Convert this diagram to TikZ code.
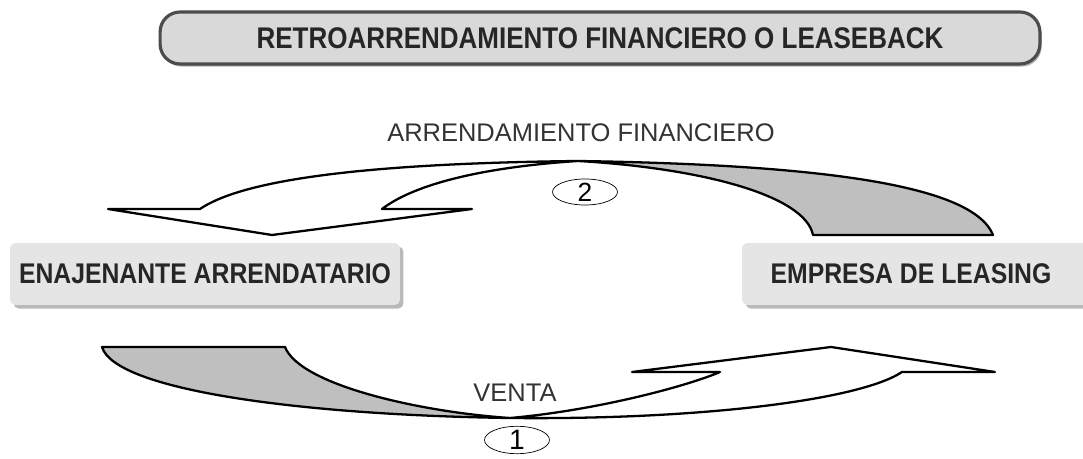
\documentclass[tikz,border=0pt]{standalone}
\usepackage{fontspec}
\setmainfont{Liberation Sans}
\newfontfamily\condfont[FakeStretch=0.87]{Liberation Sans}
\usetikzlibrary{shapes.geometric, shadows}

\tikzstyle{titlebox} = [rectangle, rounded corners=0.4cm, minimum width=17.6cm, minimum height=1.04cm, text centered, draw=black!70, line width=1.8pt, fill=gray!30, drop shadow={shadow xshift=1pt, shadow yshift=-1.5pt, fill=black!60}, font=\condfont\bfseries\fontsize{17}{20}\selectfont, text=black!85]
\tikzstyle{party} = [rectangle, rounded corners=3pt, minimum height=1.24cm, text centered, fill=gray!20, drop shadow={shadow xshift=2pt, shadow yshift=-2pt, fill=black!55}, font=\condfont\bfseries\fontsize{16.2}{19}\selectfont, text=black!85]
\tikzstyle{band} = [draw=black, line width=1.3pt, line join=round]
\tikzstyle{flowlabel} = [font=\fontsize{14.5}{17}\selectfont, text=black!80]
\tikzstyle{num} = [ellipse, draw=black, thin, fill=white, minimum width=1.3cm, minimum height=0.52cm, inner sep=0pt]

\begin{document}
\begin{tikzpicture}[x=0.02cm, y=-0.02cm]
\useasboundingbox (0,0) rectangle (1083,459);

% Nodes
\node (title) at (600,38) [titlebox] {RETROARRENDAMIENTO FINANCIERO O LEASEBACK};
\node (seller) at (205,274) [party, minimum width=7.8cm] {ENAJENANTE ARRENDATARIO};
\node (lessor) at (916,274) [party, minimum width=6.96cm] {\hspace*{-0.2cm}EMPRESA DE LEASING};

% Arrendamiento financiero (top ribbon)
\coordinate (twistA) at (578,161);
\draw [band, fill=gray!50] (813,235) -- (993,235) .. controls (975,190) and (850,165) .. (twistA) .. controls (700,168) and (805,195) .. (813,235) -- cycle;
\draw [band, fill=white] (twistA) .. controls (400,163) and (250,175) .. (200,209) -- (108,209) -- (272,235) -- (472,209) -- (382,209) .. controls (420,180) and (500,166) .. (twistA) -- cycle;

% Venta (bottom ribbon)
\coordinate (twistB) at (510,418);
\draw [band, fill=gray!50] (102,347) -- (285,347) .. controls (300,385) and (420,412) .. (twistB) .. controls (300,415) and (115,390) .. (102,347) -- cycle;
\draw [band, fill=white] (twistB) .. controls (700,420) and (860,400) .. (902,372) -- (995,372) -- (831,347) -- (632,372) -- (720,372) .. controls (690,385) and (600,410) .. (twistB) -- cycle;

% Labels
\node (lblArr) at (581,133) [flowlabel] {ARRENDAMIENTO FINANCIERO};
\node (num2) at (585,192) [num, font=\fontsize{15}{17}\selectfont] {2};
\node (lblVenta) at (515,393) [flowlabel] {VENTA};
\node (num1) at (517,440) [num, font=\rmfamily\fontsize{16}{18}\selectfont] {1};

\end{tikzpicture}
\end{document}
